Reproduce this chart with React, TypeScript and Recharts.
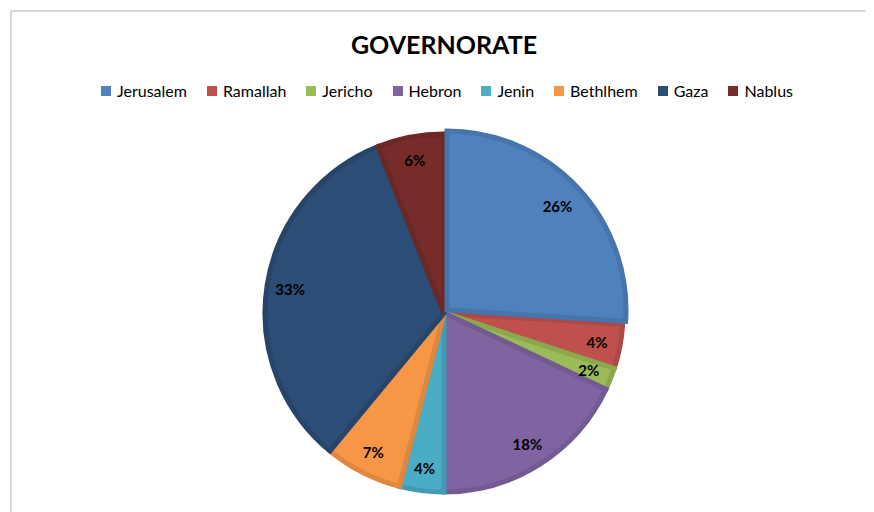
import React from 'react';
import { PieChart, Pie, Cell } from 'recharts';

const governorates = ['Jerusalem', 'Ramallah', 'Jericho', 'Hebron', 'Jenin', 'Bethlhem', 'Gaza', 'Nablus'];
const shares = [26, 4, 2, 18, 4, 7, 33, 6];
const fills = ['#4F81BD', '#C0504D', '#9BBB59', '#8064A2', '#4BACC6', '#F79646', '#2C4D75', '#772C2A'];
const strokes = ['#4674AB', '#AD4845', '#8BA84F', '#735A92', '#439AB2', '#DE873F', '#284569', '#6B2826'];

const data = governorates.map((name, i) => ({ name, value: shares[i] }));

const RAD = Math.PI / 180;
const FONT = 'Lato, "Open Sans", sans-serif';

const renderLabel = (props: any) => {
  const { cx, cy, midAngle, outerRadius, value } = props;
  const r = outerRadius * 0.87;
  const x = cx + r * Math.cos(-midAngle * RAD);
  const y = cy + r * Math.sin(-midAngle * RAD);
  return (
    <text x={x} y={y} textAnchor="middle" dominantBaseline="central" fill="#000" fontSize={15} fontWeight={700} fontFamily={FONT}>
      {value}%
    </text>
  );
};

export default function App() {
  const cx = 436;
  const cy = 305;
  const R = 179;
  return (
    <div style={{ position: 'relative', width: 866, height: 504, overflow: 'hidden', background: '#fff' }}>
      <div style={{ position: 'absolute', left: 2, top: 2, width: 1000, height: 700, border: '2px solid #D9D9D9', boxSizing: 'border-box' }} />
      <div style={{ position: 'absolute', left: 0, top: 21, width: 872, textAlign: 'center', fontFamily: FONT, fontWeight: 700, fontSize: 25, color: '#000' }}>
        GOVERNORATE
      </div>
      <div style={{ position: 'absolute', left: 0, top: 73, width: 878, display: 'flex', justifyContent: 'center', fontFamily: FONT, fontSize: 16, color: '#000', lineHeight: '20px' }}>
        {governorates.map((g, i) => (
          <div key={g} style={{ display: 'flex', alignItems: 'center', marginRight: i === governorates.length - 1 ? 0 : 20 }}>
            <span style={{ display: 'inline-block', width: 10, height: 10, background: fills[i], marginRight: 6 }} />
            <span>{g}</span>
          </div>
        ))}
      </div>
      <div style={{ position: 'absolute', left: 0, top: 0 }}>
        <PieChart width={866} height={504} margin={{ top: 0, right: 0, bottom: 0, left: 0 }}>
          <Pie
            data={data}
            dataKey="value"
            nameKey="name"
            cx={cx}
            cy={cy}
            outerRadius={R}
            startAngle={90}
            endAngle={-270}
            isAnimationActive={false}
            labelLine={false}
            label={renderLabel}
            strokeWidth={5}
          >
            {data.map((d, i) => (
              <Cell key={d.name} fill={i === 0 ? 'none' : fills[i]} stroke={i === 0 ? 'none' : strokes[i]} />
            ))}
          </Pie>
          <Pie
            data={data}
            dataKey="value"
            nameKey="name"
            cx={cx + 3}
            cy={cy - 3}
            outerRadius={R}
            startAngle={90}
            endAngle={-270}
            isAnimationActive={false}
            labelLine={false}
            strokeWidth={5}
          >
            {data.map((d, i) => (
              <Cell key={d.name} fill={i === 0 ? fills[i] : 'none'} stroke={i === 0 ? strokes[i] : 'none'} />
            ))}
          </Pie>
        </PieChart>
      </div>
    </div>
  );
}
